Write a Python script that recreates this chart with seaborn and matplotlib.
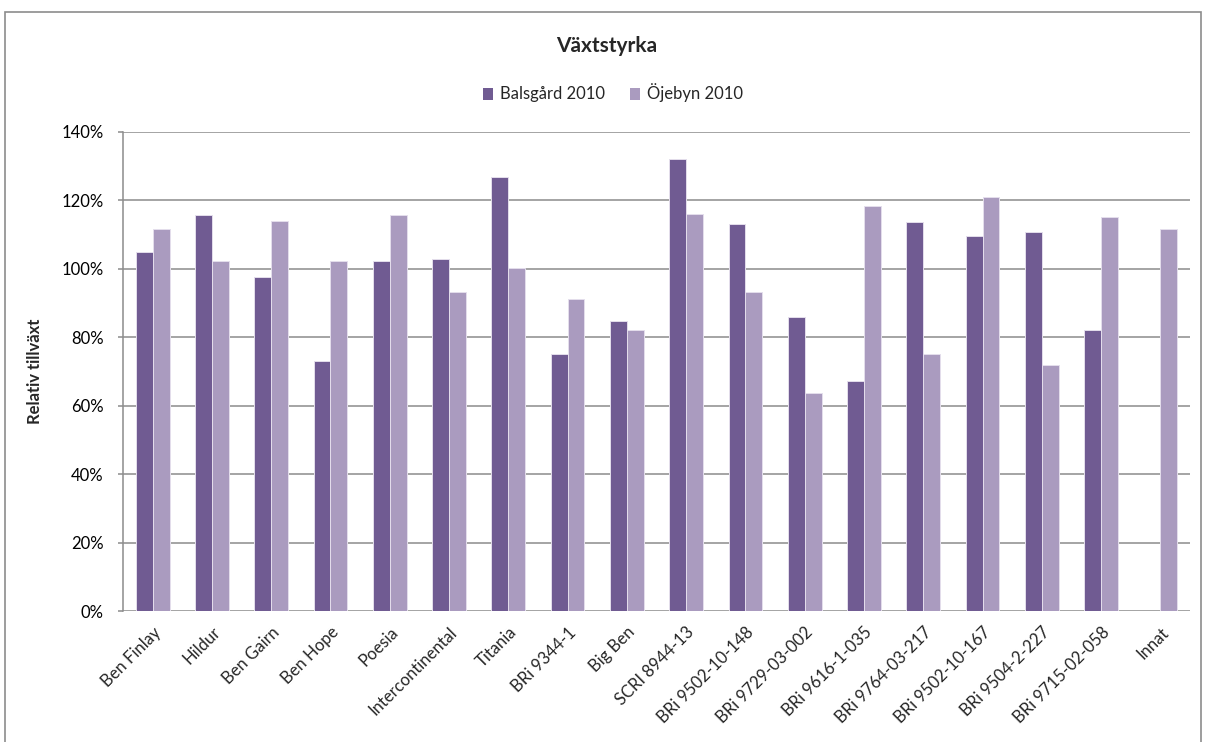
import numpy as np
import pandas as pd
import matplotlib
matplotlib.use("Agg")
import matplotlib.pyplot as plt
import seaborn as sns
from matplotlib.patches import Rectangle, Patch
from matplotlib.ticker import FuncFormatter, MultipleLocator

categories = ["Ben Finlay", "Hildur", "Ben Gairn", "Ben Hope", "Poesia",
              "Intercontinental", "Titania", "BRi 9344-1", "Big Ben",
              "SCRI 8944-13", "BRi 9502-10-148", "BRi 9729-03-002",
              "BRi 9616-1-035", "BRi 9764-03-217", "BRi 9502-10-167",
              "BRi 9504-2-227", "BRi 9715-02-058", "Innat"]
balsgard = [1.049, 1.156, 0.976, 0.732, 1.024, 1.030, 1.268, 0.752, 0.849,
            1.322, 1.132, 0.860, 0.671, 1.136, 1.097, 1.107, 0.820, np.nan]
ojebyn = [1.117, 1.024, 1.141, 1.024, 1.156, 0.932, 1.002, 0.913, 0.820,
          1.161, 0.932, 0.637, 1.185, 0.752, 1.209, 0.718, 1.151, 1.117]
series_names = ["Balsgård 2010", "Öjebyn 2010"]
colors = ["#705B92", "#AA9BBF"]

rows = []
for c, b, o in zip(categories, balsgard, ojebyn):
    rows.append((c, series_names[0], b))
    rows.append((c, series_names[1], o))
df = pd.DataFrame(rows, columns=["sort", "serie", "value"]).dropna()

sns.set_style("white")
plt.rcParams["font.family"] = ["Lato", "DejaVu Sans"]

W, H = 1206, 742
fig = plt.figure(figsize=(W / 100, H / 100), dpi=100)
ax = fig.add_axes([123 / W, 1 - 611 / H, (1190 - 123) / W, (611 - 132) / H])

sns.barplot(data=df, x="sort", y="value", hue="serie", order=categories,
            hue_order=series_names, palette=colors, width=0.57, gap=0,
            errorbar=None, ax=ax, saturation=1, edgecolor="#E4DEEC",
            linewidth=0.7, zorder=3)

ax.set_ylim(0, 1.4)
ax.set_xlim(-0.5, len(categories) - 0.5)
ax.yaxis.set_major_locator(MultipleLocator(0.2))
ax.yaxis.set_major_formatter(FuncFormatter(lambda v, p: f"{v*100:.0f}%"))
ax.grid(axis="y", color="#8C8C8C", linewidth=1.1, zorder=0)
ax.set_axisbelow(True)
for s in ["top", "right", "bottom"]:
    ax.spines[s].set_visible(False)
ax.spines["left"].set_color("#8C8C8C")
ax.spines["left"].set_linewidth(1.1)
ax.tick_params(axis="y", left=True, length=3.6, width=1.1, color="#8C8C8C",
               labelsize=12, pad=10.5, labelcolor="black")
ax.tick_params(axis="x", bottom=False, labelsize=12, pad=6)
ax.set_xticks(range(len(categories)))
ax.set_xticklabels(categories, rotation=45, ha="right", va="top",
                   rotation_mode="anchor")
ax.set_xlabel("")
ax.set_ylabel("Relativ tillväxt", fontsize=12, fontweight="bold", labelpad=13)
if ax.get_legend() is not None:
    ax.get_legend().remove()

fig.text(607 / W, 1 - 46 / H, "Växtstyrka", ha="center", va="center",
         fontsize=15, fontweight="bold")
handles = [Patch(facecolor=c, edgecolor="none") for c in colors]
fig.legend(handles, series_names, loc="center", bbox_to_anchor=(613 / W, 1 - 93 / H),
           ncol=2, frameon=False, fontsize=12, handlelength=0.6, handleheight=0.75,
           handletextpad=0.4, columnspacing=1.5)

fig.patches.append(Rectangle((5 / W, -0.01), (1201 - 5) / W, 1 - 12 / H + 0.01,
                             transform=fig.transFigure, fill=False,
                             edgecolor="#8C8C8C", linewidth=1.2))

fig.savefig("out.png", dpi=100, facecolor="white")
